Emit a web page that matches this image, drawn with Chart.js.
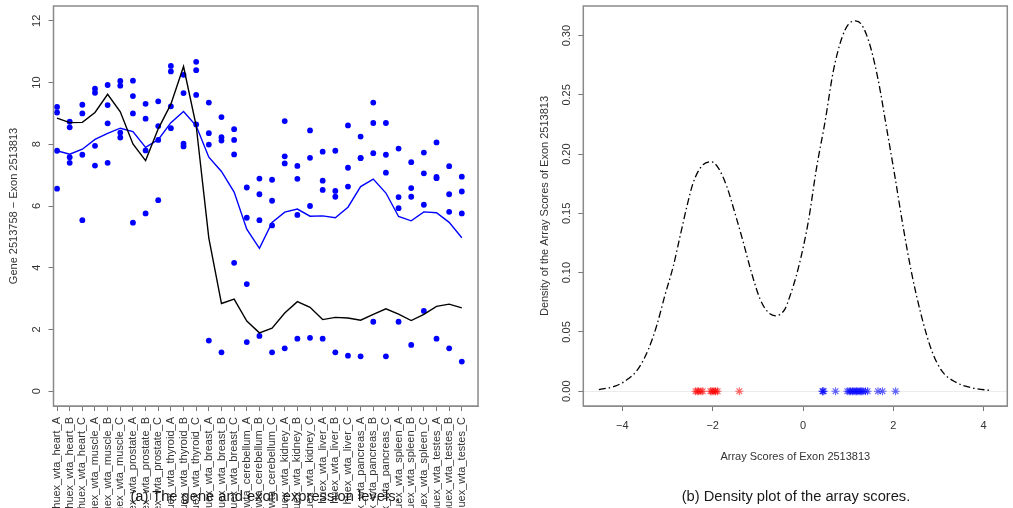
<!DOCTYPE html>
<html>
<head>
<meta charset="utf-8">
<script src="https://cdn.jsdelivr.net/npm/chart.js@4.4.1/dist/chart.umd.min.js"></script>
<style>
  body { margin: 0; background: #fff; }
  #page { position: relative; width: 1013px; height: 508px; overflow: hidden; }
  canvas { position: absolute; top: 0; }
  .caption { position: absolute; top: 487px; width: 400px; font: 14.7px "Liberation Sans", Arial, sans-serif;
             color: #1a1a1a; text-align: center; line-height: 18px; white-space: nowrap; }
</style>
</head>
<body>
<div id="page">
  <canvas id="levels" width="500" height="508" style="left:0;width:500px;height:508px"></canvas>
  <canvas id="density" width="513" height="508" style="left:500px;width:513px;height:508px"></canvas>
  <div class="caption" style="left:65px">(a) The gene and exon expression levels.</div>
  <div class="caption" style="left:596px">(b) Density plot of the array scores.</div>
</div>
<script>
// samples: 11 tissues, three replicates each
const tissues = ['heart', 'muscle', 'prostate', 'thyroid', 'breast', 'cerebellum',
                 'kidney', 'liver', 'pancreas', 'spleen', 'testes'];
const replicates = ['A', 'B', 'C'];
const samples = tissues.flatMap(t => replicates.map(r => 'huex_wta_' + t + '_' + r));

// summarised levels per sample
const geneLevel = [8.85, 8.70, 8.71, 9.03, 9.62, 9.05, 8.01, 7.47, 8.50, 9.30, 10.52, 8.60,
                   4.96, 2.84, 2.98, 2.27, 1.89, 2.04, 2.53, 2.90, 2.72, 2.32, 2.39, 2.37,
                   2.30, 2.49, 2.67, 2.50, 2.29, 2.49, 2.75, 2.82, 2.70];
const exonLevel = [7.79, 7.68, 7.84, 8.16, 8.35, 8.52, 8.41, 7.90, 8.15, 8.70, 9.06, 8.60,
                   7.58, 7.12, 6.45, 5.25, 4.63, 5.47, 5.80, 5.90, 5.67, 5.68, 5.62, 5.96,
                   6.63, 6.87, 6.42, 5.66, 5.52, 5.81, 5.78, 5.47, 4.97];

// probe intensities of the exon (four probes per sample)
const probe1 = [9.21, 8.73, 9.28, 9.80, 9.92, 10.05, 10.06, 9.31, 9.39, 10.54, 10.25, 10.67,
                9.35, 8.88, 8.49, 6.60, 6.89, 6.85, 8.75, 7.30, 8.45, 7.76, 7.79, 8.61,
                8.25, 9.35, 8.69, 7.86, 7.42, 7.73, 8.06, 7.29, 6.95];
const probe2 = [9.03, 8.55, 9.00, 9.67, 9.27, 9.90, 9.56, 8.83, 8.59, 10.36, 9.66, 10.40,
                8.36, 8.23, 8.14, 5.62, 6.38, 6.17, 7.61, 6.88, 7.56, 6.82, 6.49, 7.24,
                7.56, 8.69, 7.66, 6.29, 6.58, 7.06, 6.94, 6.38, 6.47];
const probe3 = [7.79, 7.58, 7.66, 7.95, 8.68, 8.38, 9.00, 7.80, 8.14, 9.23, 8.02, 9.60,
                7.99, 8.12, 7.67, 3.47, 5.54, 5.37, 7.38, 5.71, 6.00, 6.52, 6.30, 6.63,
                7.55, 7.71, 7.08, 5.93, 6.30, 6.04, 6.90, 5.81, 5.76];
const probe4 = [6.56, 7.40, 5.54, 7.31, 7.40, 8.22, 5.46, 5.76, 6.19, 8.52, 7.93, 8.64,
                1.64, 1.26, 4.16, 1.59, 1.79, 1.26, 1.39, 1.70, 1.73, 1.70, 1.26, 1.15,
                1.13, 2.25, 1.13, 2.25, 1.50, 2.60, 1.70, 1.39, 0.96];
const levelTicks = [0, 2, 4, 6, 8, 10, 12];

// density estimate of the array scores
const densityX = [-4.52, -4.16, -3.87, -3.65, -3.42, -3.24, -3.06, -2.87, -2.72, -2.57, -2.43,
                  -2.24, -2.03, -1.88, -1.69, -1.51, -1.32, -1.14, -0.95, -0.77, -0.61, -0.40,
                  -0.30, -0.10, 0.12, 0.30, 0.49, 0.67, 0.86, 1.00, 1.16, 1.30, 1.48, 1.67,
                  1.85, 2.04, 2.22, 2.41, 2.63, 2.85, 3.07, 3.38, 3.74, 4.18];
const densityY = [0.0014, 0.0042, 0.0104, 0.0188, 0.0356, 0.0552, 0.0805, 0.1057, 0.131, 0.156, 0.176,
                  0.190, 0.1936, 0.1886, 0.173, 0.1507, 0.1254, 0.100, 0.0777, 0.0665, 0.0636, 0.0693,
                  0.079, 0.1044, 0.1436, 0.1885, 0.2278, 0.2699, 0.298, 0.3092, 0.3125, 0.3092, 0.2923, 0.2615,
                  0.2222, 0.180, 0.138, 0.0987, 0.0623, 0.0342, 0.0173, 0.0076, 0.0028, 0.0005];
const lowScores = [-2.38, -2.34, -2.31, -2.26, -2.22, -2.05, -2.02, -1.99, -1.95, -1.93, -1.89, -1.41];
const highScores = [0.43, 0.44, 0.46, 0.72, 0.98, 1.02, 1.05, 1.09, 1.11, 1.15, 1.18, 1.20, 1.24,
                    1.27, 1.30, 1.33, 1.38, 1.43, 1.66, 1.76, 2.05];
const scoreTicks = [-4, -2, 0, 2, 4];
const densityTicks = [0, 0.05, 0.10, 0.15, 0.20, 0.25, 0.30];

Chart.defaults.font.family = '"Liberation Sans", Arial, sans-serif';
Chart.defaults.font.size = 11;
Chart.defaults.color = '#333';

const minus = v => String(v).replace('-', '\u2212');

// fixed axis thickness so both plot boxes land where they should
function fixSize(prop, size) {
  return scale => {
    scale[prop] = size;
    scale.paddingTop = scale.paddingBottom = scale.paddingLeft = scale.paddingRight = 0;
  };
}

// box around the plot region
const frame = {
  id: 'frame',
  afterDraw(chart) {
    const {ctx, chartArea: a} = chart;
    ctx.save();
    ctx.strokeStyle = '#8a8a8a';
    ctx.lineWidth = 1.5;
    ctx.strokeRect(a.left, a.top, a.right - a.left, a.bottom - a.top);
    ctx.restore();
  }
};

const axisGrid = {drawOnChartArea: false, tickLength: 5, tickColor: '#777'};
const common = {
  responsive: false,
  animation: false,
  devicePixelRatio: 1,
  plugins: {legend: {display: false}, tooltip: {enabled: false}}
};

const bySample = values => values.map((v, i) => ({x: i + 1, y: v}));

new Chart(document.getElementById('levels'), {
  type: 'scatter',
  data: {
    datasets: [
      {data: bySample(geneLevel), showLine: true, borderColor: '#000', borderWidth: 1.4, pointRadius: 0},
      {data: bySample(exonLevel), showLine: true, borderColor: '#0000ff', borderWidth: 1.4, pointRadius: 0},
      ...[probe1, probe2, probe3, probe4].map(p => ({
        data: bySample(p), pointRadius: 2.9, backgroundColor: '#0000ff', borderWidth: 0
      }))
    ]
  },
  options: {
    ...common,
    layout: {padding: {top: 6, right: 22, bottom: 0, left: 0}},
    scales: {
      x: {
        type: 'linear', min: 0.72, max: 34.28,
        afterBuildTicks: s => { s.ticks = samples.map((_, i) => ({value: i + 1})); },
        afterFit: fixSize('height', 102),
        ticks: {autoSkip: false, minRotation: 90, maxRotation: 90, padding: 6,
                callback: v => samples[v - 1]},
        grid: axisGrid,
        border: {color: '#888'}
      },
      y: {
        min: -0.48, max: 12.48,
        afterBuildTicks: s => { s.ticks = levelTicks.map(v => ({value: v})); },
        afterFit: fixSize('width', 53.5),
        ticks: {minRotation: 90, maxRotation: 90, crossAlign: 'center', padding: 5},
        grid: axisGrid,
        border: {color: '#888'},
        title: {display: true, text: 'Gene 2513758 \u2212 Exon 2513813', padding: {top: 7.5}}
      }
    }
  },
  plugins: [frame]
});

const atZero = values => values.map(v => ({x: v, y: 0}));

new Chart(document.getElementById('density'), {
  type: 'scatter',
  data: {
    datasets: [
      {data: densityX.map((x, i) => ({x, y: densityY[i]})), showLine: true, pointRadius: 0,
       borderColor: '#000', borderWidth: 1.3, borderDash: [7, 3, 1.5, 3], cubicInterpolationMode: 'monotone'},
      {data: atZero(lowScores), pointStyle: 'star', pointRadius: 4,
       borderColor: 'rgba(255,0,0,0.6)', borderWidth: 1.1},
      {data: atZero(highScores), pointStyle: 'star', pointRadius: 4,
       borderColor: 'rgba(0,0,255,0.6)', borderWidth: 1.1}
    ]
  },
  options: {
    ...common,
    layout: {padding: {top: 6, right: 5.7, bottom: 0, left: 0}},
    scales: {
      x: {
        type: 'linear', min: -4.864, max: 4.523,
        afterBuildTicks: s => { s.ticks = scoreTicks.map(v => ({value: v})); },
        afterFit: fixSize('height', 102),
        ticks: {padding: 8, callback: v => minus(v)},
        grid: axisGrid,
        border: {color: '#888'},
        title: {display: true, text: 'Array Scores of Exon 2513813', padding: {bottom: 44.4}}
      },
      y: {
        min: -0.0125, max: 0.325,
        afterBuildTicks: s => { s.ticks = densityTicks.map(v => ({value: v})); },
        afterFit: fixSize('width', 83.3),
        ticks: {minRotation: 90, maxRotation: 90, crossAlign: 'center', padding: 1,
                callback: v => v.toFixed(2)},
        grid: {drawOnChartArea: true, tickLength: 5, tickColor: '#777',
               color: c => (c.tick && c.tick.value === 0 ? '#ececec' : 'rgba(0,0,0,0)')},
        border: {color: '#888'},
        title: {display: true, text: 'Density of the Array Scores of Exon 2513813', padding: {top: 38.4}}
      }
    }
  },
  plugins: [frame]
});
</script>
</body>
</html>
